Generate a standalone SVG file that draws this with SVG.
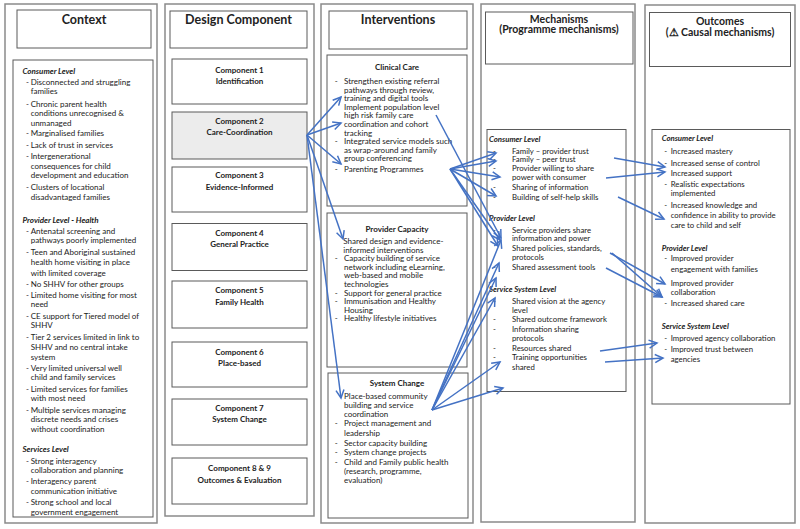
<svg xmlns="http://www.w3.org/2000/svg" width="800" height="529" viewBox="0 0 800 529">
<defs>
<style>
.panel{fill:#fff;stroke:#8a8a8a;stroke-width:1.5}
.box{fill:#fff;stroke:#5a5a5a;stroke-width:1}
.hl{fill:#ececec}
text{font-family:Lato,"Liberation Sans",sans-serif;fill:#222}
.t{font-size:12.5px;font-weight:bold;text-anchor:middle}
.t2{font-size:10.5px;font-weight:bold;text-anchor:middle}
.c{font-size:8px;font-weight:bold;text-anchor:middle}
.b{font-size:8px}
.h{font-size:8px;font-weight:bold;font-style:italic}
.s{font-size:8px;font-weight:bold;text-anchor:middle}
.m{font-size:7.8px}
.mh{font-size:7.8px;font-weight:bold;font-style:italic}
.ar{fill:none;stroke:#4472c4;stroke-width:1.5;marker-end:url(#ah)}
</style>
<marker id="ah" markerUnits="userSpaceOnUse" markerWidth="12" markerHeight="12" refX="8" refY="4" orient="auto" overflow="visible">
<path d="M0,0 L8,4 L0,8" fill="none" stroke="#4472c4" stroke-width="1.5"/>
</marker>
</defs>
<rect width="800" height="529" fill="#fff"/>

<g id="context">
<rect class="panel" x="5" y="4" width="152" height="519"/>
<rect class="box" x="17" y="10" width="134" height="38"/>
<text class="t" x="84" y="24">Context</text>
<rect class="box" x="13" y="60" width="140" height="457"/>
<text class="h" x="22.5" y="74">Consumer Level</text>
<text class="b" x="26" y="84.7">-</text><text class="b" x="30.7" y="84.7">Disconnected and struggling</text>
<text class="b" x="30.7" y="93.7">families</text>
<text class="b" x="26" y="107">-</text><text class="b" x="30.7" y="107">Chronic parent health</text>
<text class="b" x="30.7" y="116">conditions unrecognised &amp;</text>
<text class="b" x="30.7" y="125.7">unmanaged</text>
<text class="b" x="26" y="136.3">-</text><text class="b" x="30.7" y="136.3">Marginalised families</text>
<text class="b" x="26" y="148">-</text><text class="b" x="30.7" y="148">Lack of trust in services</text>
<text class="b" x="26" y="159">-</text><text class="b" x="30.7" y="159">Intergenerational</text>
<text class="b" x="30.7" y="168.7">consequences for child</text>
<text class="b" x="30.7" y="178">development and education</text>
<text class="b" x="26" y="189.7">-</text><text class="b" x="30.7" y="189.7">Clusters of locational</text>
<text class="b" x="30.7" y="199.7">disadvantaged families</text>
<text class="h" x="22.5" y="223">Provider Level - Health</text>
<text class="b" x="26" y="234">-</text><text class="b" x="30.7" y="234">Antenatal screening and</text>
<text class="b" x="30.7" y="243">pathways poorly implemented</text>
<text class="b" x="26" y="254.7">-</text><text class="b" x="30.7" y="254.7">Teen and Aboriginal sustained</text>
<text class="b" x="30.7" y="264.7">health home visiting in place</text>
<text class="b" x="30.7" y="275.7">with limited coverage</text>
<text class="b" x="26" y="287">-</text><text class="b" x="30.7" y="287">No SHHV for other groups</text>
<text class="b" x="26" y="298">-</text><text class="b" x="30.7" y="298">Limited home visiting for most</text>
<text class="b" x="30.7" y="307">need</text>
<text class="b" x="26" y="319">-</text><text class="b" x="30.7" y="319">CE support for Tiered model of</text>
<text class="b" x="30.7" y="328.3">SHHV</text>
<text class="b" x="26" y="340.3">-</text><text class="b" x="30.7" y="340.3">Tier 2 services limited in link to</text>
<text class="b" x="30.7" y="350.3">SHHV and no central intake</text>
<text class="b" x="30.7" y="359.7">system</text>
<text class="b" x="26" y="371">-</text><text class="b" x="30.7" y="371">Very limited universal well</text>
<text class="b" x="30.7" y="380.3">child and family services</text>
<text class="b" x="26" y="391.7">-</text><text class="b" x="30.7" y="391.7">Limited services for families</text>
<text class="b" x="30.7" y="401.3">with most need</text>
<text class="b" x="26" y="413">-</text><text class="b" x="30.7" y="413">Multiple services managing</text>
<text class="b" x="30.7" y="422.3">discrete needs and crises</text>
<text class="b" x="30.7" y="432">without coordination</text>
<text class="h" x="22.5" y="451.7">Services Level</text>
<text class="b" x="26" y="463.7">-</text><text class="b" x="30.7" y="463.7">Strong interagency</text>
<text class="b" x="30.7" y="473">collaboration and planning</text>
<text class="b" x="26" y="484.3">-</text><text class="b" x="30.7" y="484.3">Interagency parent</text>
<text class="b" x="30.7" y="493.7">communication initiative</text>
<text class="b" x="26" y="505">-</text><text class="b" x="30.7" y="505">Strong school and local</text>
<text class="b" x="30.7" y="514.7">government engagement</text>
</g>

<g id="design">
<rect class="panel" x="165" y="4" width="149" height="512"/>
<rect class="box" x="170" y="11" width="137" height="37"/>
<text class="t" x="238.5" y="24">Design Component</text>
</g>
<g id="comp1"><rect class="box" x="172" y="59" width="135" height="45"/><text class="c" x="239.5" y="73">Component 1</text><text class="c" x="239.5" y="83.5">Identification</text></g>
<g id="comp2"><rect class="box hl" x="172" y="112" width="135" height="47"/><text class="c" x="239.5" y="124">Component 2</text><text class="c" x="239.5" y="135">Care-Coordination</text></g>
<g id="comp3"><rect class="box" x="172" y="167" width="135" height="45"/><text class="c" x="239.5" y="178">Component 3</text><text class="c" x="239.5" y="189.5">Evidence-Informed</text></g>
<g id="comp4"><rect class="box" x="172" y="223.5" width="135" height="47"/><text class="c" x="239.5" y="235.5">Component 4</text><text class="c" x="239.5" y="247">General Practice</text></g>
<g id="comp5"><rect class="box" x="172" y="281" width="135" height="47"/><text class="c" x="239.5" y="293">Component 5</text><text class="c" x="239.5" y="304.5">Family Health</text></g>
<g id="comp6"><rect class="box" x="172" y="342" width="135" height="45"/><text class="c" x="239.5" y="354.5">Component 6</text><text class="c" x="239.5" y="366">Place-based</text></g>
<g id="comp7"><rect class="box" x="172" y="399" width="135" height="46"/><text class="c" x="239.5" y="411">Component 7</text><text class="c" x="239.5" y="422">System Change</text></g>
<g id="comp89"><rect class="box" x="172" y="458" width="135" height="46"/><text class="c" x="239.5" y="471">Component 8 &amp; 9</text><text class="c" x="239.5" y="483">Outcomes &amp; Evaluation</text></g>

<g id="interventions">
<rect class="panel" x="321" y="4" width="152" height="519"/>
<rect class="box" x="329" y="11" width="138" height="38"/>
<text class="t" x="398" y="24">Interventions</text>
</g>
<g id="clinical">
<rect class="box" x="327" y="55" width="140" height="151"/>
<text class="s" x="397" y="69.7">Clinical Care</text>
<text class="b" x="334.7" y="84">-</text><text class="b" x="344" y="84">Strengthen existing referral</text>
<text class="b" x="344" y="92.6">pathways through review,</text>
<text class="b" x="344" y="101.2">training and digital tools</text>
<text class="b" x="344" y="109.8">Implement population level</text>
<text class="b" x="344" y="118.4">high risk family care</text>
<text class="b" x="344" y="127">coordination and cohort</text>
<text class="b" x="344" y="135.6">tracking</text>
<text class="b" x="334.7" y="144.2">-</text><text class="b" x="344" y="144.2">Integrated service models such</text>
<text class="b" x="344" y="152.8">as wrap-around and family</text>
<text class="b" x="344" y="161.4">group conferencing</text>
<text class="b" x="334.7" y="172">-</text><text class="b" x="344" y="172">Parenting Programmes</text>
</g>
<g id="provider">
<rect class="box" x="327" y="213" width="140" height="154"/>
<text class="s" x="397" y="231.5">Provider Capacity</text>
<text class="b" x="343.3" y="244">Shared design and evidence-</text>
<text class="b" x="343.3" y="252.6">informed interventions</text>
<text class="b" x="334.7" y="261.2">-</text><text class="b" x="344" y="261.2">Capacity building of service</text>
<text class="b" x="344" y="269.8">network including eLearning,</text>
<text class="b" x="344" y="278.4">web-based and mobile</text>
<text class="b" x="344" y="287">technologies</text>
<text class="b" x="334.7" y="295.6">-</text><text class="b" x="344" y="295.6">Support for general practice</text>
<text class="b" x="334.7" y="304.2">-</text><text class="b" x="344" y="304.2">Immunisation and Healthy</text>
<text class="b" x="344" y="312.8">Housing</text>
<text class="b" x="334.7" y="321.4">-</text><text class="b" x="344" y="321.4">Healthy lifestyle initiatives</text>
</g>
<g id="system">
<rect class="box" x="328" y="373" width="140" height="145"/>
<text class="s" x="397" y="386.3">System Change</text>
<text class="b" x="344" y="399">Place-based community</text>
<text class="b" x="344" y="408.3">building and service</text>
<text class="b" x="344" y="417">coordination</text>
<text class="b" x="334.7" y="426.3">-</text><text class="b" x="344" y="426.3">Project management and</text>
<text class="b" x="344" y="435.7">leadership</text>
<text class="b" x="334.7" y="445.7">-</text><text class="b" x="344" y="445.7">Sector capacity building</text>
<text class="b" x="334.7" y="454.7">-</text><text class="b" x="344" y="454.7">System change projects</text>
<text class="b" x="334.7" y="464.7">-</text><text class="b" x="344" y="464.7">Child and Family public health</text>
<text class="b" x="344" y="473.7">(research, programme,</text>
<text class="b" x="344" y="483">evaluation)</text>
</g>

<g id="mechanisms">
<rect class="panel" x="481" y="4" width="154" height="518"/>
<rect class="box" x="485.5" y="12" width="147.5" height="52"/>
<text class="t2" x="559" y="22.5">Mechanisms</text>
<text class="t2" x="559" y="33">(Programme mechanisms)</text>
<rect class="box" x="487" y="129.5" width="139" height="262"/>
<text class="mh" x="489" y="142.3">Consumer Level</text>
<text class="m" x="493" y="153.7">-</text><text class="m" x="512" y="153.7">Family – provider trust</text>
<text class="m" x="493" y="162.3">-</text><text class="m" x="512" y="162.3">Family – peer trust</text>
<text class="m" x="493" y="171">-</text><text class="m" x="512" y="171">Provider willing to share</text>
<text class="m" x="512" y="179.8">power with consumer</text>
<text class="m" x="493" y="190.3">-</text><text class="m" x="512" y="190.3">Sharing of information</text>
<text class="m" x="493" y="199.7">-</text><text class="m" x="512" y="199.7">Building of self-help skills</text>
<text class="mh" x="489" y="221.3">Provider Level</text>
<text class="m" x="493" y="232.5">-</text><text class="m" x="512" y="232.5">Service providers share</text>
<text class="m" x="512" y="241.3">information and power</text>
<text class="m" x="512" y="251.3">Shared policies, standards,</text>
<text class="m" x="512" y="260.3">protocols</text>
<text class="m" x="493" y="270">-</text><text class="m" x="512" y="270">Shared assessment tools</text>
<text class="mh" x="489" y="292.3">Service System Level</text>
<text class="m" x="493" y="303.7">-</text><text class="m" x="512" y="303.7">Shared vision at the agency</text>
<text class="m" x="512" y="313">level</text>
<text class="m" x="493" y="322.3">-</text><text class="m" x="512" y="322.3">Shared outcome framework</text>
<text class="m" x="493" y="331.7">-</text><text class="m" x="512" y="331.7">Information sharing</text>
<text class="m" x="512" y="341.3">protocols</text>
<text class="m" x="493" y="350.7">-</text><text class="m" x="512" y="350.7">Resources shared</text>
<text class="m" x="493" y="360.3">-</text><text class="m" x="512" y="360.3">Training opportunities</text>
<text class="m" x="512" y="369.7">shared</text>
</g>

<g id="outcomes">
<rect class="panel" x="645" y="5" width="150" height="518"/>
<rect class="box" x="649.5" y="12.5" width="141" height="54"/>
<text class="t2" x="720" y="25">Outcomes</text>
<text class="t2" x="720" y="35.5">(⚠ Causal mechanisms)</text>
<rect class="box" x="652" y="129.5" width="138" height="274.5"/>
<text class="mh" x="661.7" y="141.3">Consumer Level</text>
<text class="m" x="664.3" y="154">-</text><text class="m" x="670.7" y="154">Increased mastery</text>
<text class="m" x="664.3" y="165.7">-</text><text class="m" x="670.7" y="165.7">Increased sense of control</text>
<text class="m" x="670.7" y="176.3">Increased support</text>
<text class="m" x="664.3" y="187.3">-</text><text class="m" x="670.7" y="187.3">Realistic expectations</text>
<text class="m" x="670.7" y="196.3">implemented</text>
<text class="m" x="664.3" y="208">-</text><text class="m" x="670.7" y="208">Increased knowledge and</text>
<text class="m" x="670.7" y="218">confidence in ability to provide</text>
<text class="m" x="670.7" y="228">care to child and self</text>
<text class="mh" x="661.7" y="251.3">Provider Level</text>
<text class="m" x="664.3" y="261.3">-</text><text class="m" x="670.7" y="261.3">Improved provider</text>
<text class="m" x="670.7" y="272">engagement with families</text>
<text class="m" x="670.7" y="285.7">Improved provider</text>
<text class="m" x="670.7" y="294.7">collaboration</text>
<text class="m" x="664.3" y="305.7">-</text><text class="m" x="670.7" y="305.7">Increased shared care</text>
<text class="mh" x="661.7" y="329">Service System Level</text>
<text class="m" x="664.3" y="341.3">-</text><text class="m" x="670.7" y="341.3">Improved agency collaboration</text>
<text class="m" x="664.3" y="352.3">-</text><text class="m" x="670.7" y="352.3">Improved trust between</text>
<text class="m" x="670.7" y="362">agencies</text>
</g>

<g id="connectors">
<path class="ar" d="M307,135 L341,97"/>
<path class="ar" d="M307,135 L341,123"/>
<path class="ar" d="M307,135 L341,164"/>
<path class="ar" d="M307,135 L343,239"/>
<path class="ar" d="M307,135 L341,398"/>
<path class="ar" d="M450,169 L496,153"/>
<path class="ar" d="M450,169 L496,161"/>
<path class="ar" d="M450,169 L500,177"/>
<path class="ar" d="M450,169 L496,196"/>
<path class="ar" d="M450,169 L500,240"/>
<path class="ar" d="M450,169 L498,246"/>
<path class="ar" d="M436,115 L501,238"/>
<path class="ar" d="M432,410 L501,240"/>
<path class="ar" d="M432,410 L499,263"/>
<path class="ar" d="M432,410 L496,278"/>
<path class="ar" d="M432,410 L495,298"/>
<path class="ar" d="M432,410 L500,362"/>
<path class="ar" d="M432,410 L503,388"/>
<path class="ar" d="M614,158 L665,167"/>
<path class="ar" d="M606,178 L665,172"/>
<path class="ar" d="M618,197 L664,219"/>
<path class="ar" d="M610,253 L665,284"/>
<path class="ar" d="M612,253 L662,297"/>
<path class="ar" d="M606,268 L662,297"/>
<path class="ar" d="M600,351 L657,343"/>
<path class="ar" d="M605,362 L663,358"/>
</g>
</svg>
